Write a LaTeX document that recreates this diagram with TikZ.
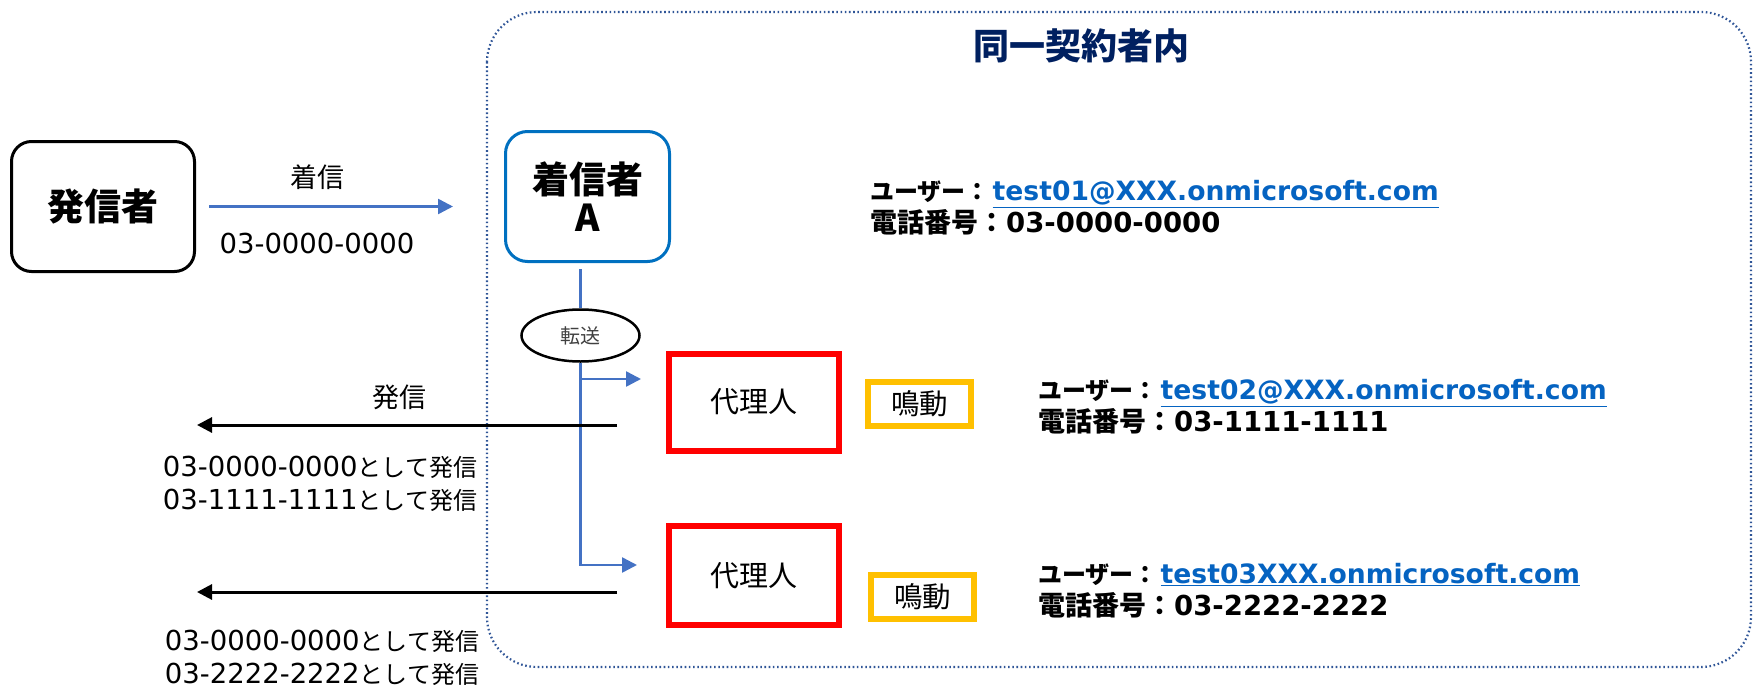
\documentclass[tikz,border=0pt]{standalone}
\usepackage{fontspec}
\setmainfont{DejaVu Sans}
\newfontfamily\jp{Noto Sans CJK JP}
\usetikzlibrary{shapes.geometric,arrows.meta,calc}
\definecolor{arrowblue}{HTML}{4472C4}
\definecolor{recvblue}{HTML}{0070C0}
\definecolor{navy}{HTML}{002060}
\definecolor{dotblue}{HTML}{2F5597}
\definecolor{linkblue}{HTML}{0563C1}
\definecolor{agentred}{HTML}{FF0000}
\definecolor{ringorange}{HTML}{FFC000}
\newcommand\Jr[2]{{\jp\fontsize{#1}{#1}\selectfont #2}}
\newcommand\Jb[2]{{\jp\bfseries\fontsize{#1}{#1}\selectfont #2}}
\newcommand\userline[1]{\Jb{24}{ユーザー：}\hspace{3pt}{\fontsize{26.6}{32}\selectfont\textcolor{linkblue}{\underline{#1}}}}
\newcommand\telline[1]{\Jb{27}{電話番号：}\hspace{1pt}{\fontsize{27.5}{32}\selectfont #1}}
\begin{document}
\begin{tikzpicture}[x=1pt,y=-1pt,
  contbox/.style={draw=dotblue,line width=2.2pt,dash pattern=on 1.6pt off 2.6pt,rounded corners=50pt},
  titletext/.style={text=navy,inner sep=0pt},
  callerbox/.style={draw=black,line width=3pt,rounded corners=20pt,minimum width=183pt,minimum height=130pt,inner sep=0pt},
  recvbox/.style={draw=recvblue,line width=3pt,rounded corners=22pt,minimum width=164pt,minimum height=130pt,inner sep=0pt,align=center},
  fwdell/.style={ellipse,draw=black,line width=2.5pt,minimum width=118pt,minimum height=52pt,inner sep=0pt},
  agentbox/.style={draw=agentred,line width=6pt,minimum width=170pt,minimum height=97pt,inner sep=0pt},
  ringbox/.style={draw=ringorange,line width=6pt,minimum width=103pt,minimum height=44pt,inner sep=0pt},
  lbl/.style={inner sep=0pt,font=\fontsize{27.5}{33}\selectfont},
  info/.style={inner sep=0pt,anchor=west,align=left,font=\bfseries\fontsize{26}{32}\selectfont},
  barrow/.style={draw=arrowblue,line width=2.5pt,-{Triangle[length=15pt,width=15pt]}},
  bline/.style={draw=arrowblue,line width=2.5pt},
  karrow/.style={draw=black,line width=3pt,-{Triangle[length=15pt,width=15pt]}}
]
\useasboundingbox (0,0) rectangle (1756,688);

% container
\draw[contbox] (487,12) rectangle (1751,667);
\node[titletext] (ttl) at (1081,46) {\Jb{36}{同一契約者内}};

% caller and receiver
\node[callerbox] (caller) at (103,206.5) {\Jb{37}{発信者}};
\node[recvbox] (recv) at (587.5,196.5) {\Jb{37}{着信者}\\[6pt]{\jp\bfseries\fontsize{37}{37}\selectfont A}};

\draw[barrow,shorten <=13pt,shorten >=51pt] (caller.east) -- (caller.east -| recv.west);
\node[lbl] (inlbl) at (317,177) {\Jr{27}{着信}};
\node[lbl] (innum) at (317,243) {03-0000-0000};

% forward
\node[fwdell] (fwd) at (580.5,335.5) {{\jp\fontsize{20}{20}\selectfont\color{black!75}転送}};
\draw[bline,shorten <=6pt] (fwd.north |- recv.south) -- (fwd.north);

% agents
\node[agentbox] (ag1) at (754,402) {\Jr{29}{代理人}};
\node[agentbox,minimum height=99pt] (ag2) at (754,575.5) {\Jr{29}{代理人}};
\node[ringbox] (ring1) at (919.5,404) {\Jr{28.5}{鳴動}};
\node[ringbox] (ring2) at (922.5,597) {\Jr{28.5}{鳴動}};

\coordinate (t1) at (641,379);
\coordinate (t2) at (637,565);
\draw[barrow] (fwd.south) |- (t2);
\draw[barrow] (fwd.south |- t1) -- (t1);

% outgoing calls
\coordinate (o1s) at (617,425);
\coordinate (o1e) at (197,425);
\coordinate (o2s) at (617,592);
\coordinate (o2e) at (197,592);
\draw[karrow] (o1s) -- (o1e);
\draw[karrow] (o2s) -- (o2e);
\node[lbl] (outlbl) at (399,397) {\Jr{27}{発信}};
\node[lbl,align=center] (out1) at (320,483.5) {03-0000-0000\Jr{24}{として発信}\\[0pt]03-1111-1111\Jr{24}{として発信}};
\node[lbl,align=center] (out2) at (322,658) {03-0000-0000\Jr{24}{として発信}\\[0pt]03-2222-2222\Jr{24}{として発信}};

% info blocks
\node[info] (info1) at (870,208) {\userline{test01@XXX.onmicrosoft.com}\\\telline{03-0000-0000}};
\node[info] (info2) at (1038,407) {\userline{test02@XXX.onmicrosoft.com}\\\telline{03-1111-1111}};
\node[info] (info3) at (1038,591) {\userline{test03XXX.onmicrosoft.com}\\\telline{03-2222-2222}};
\end{tikzpicture}
\end{document}
